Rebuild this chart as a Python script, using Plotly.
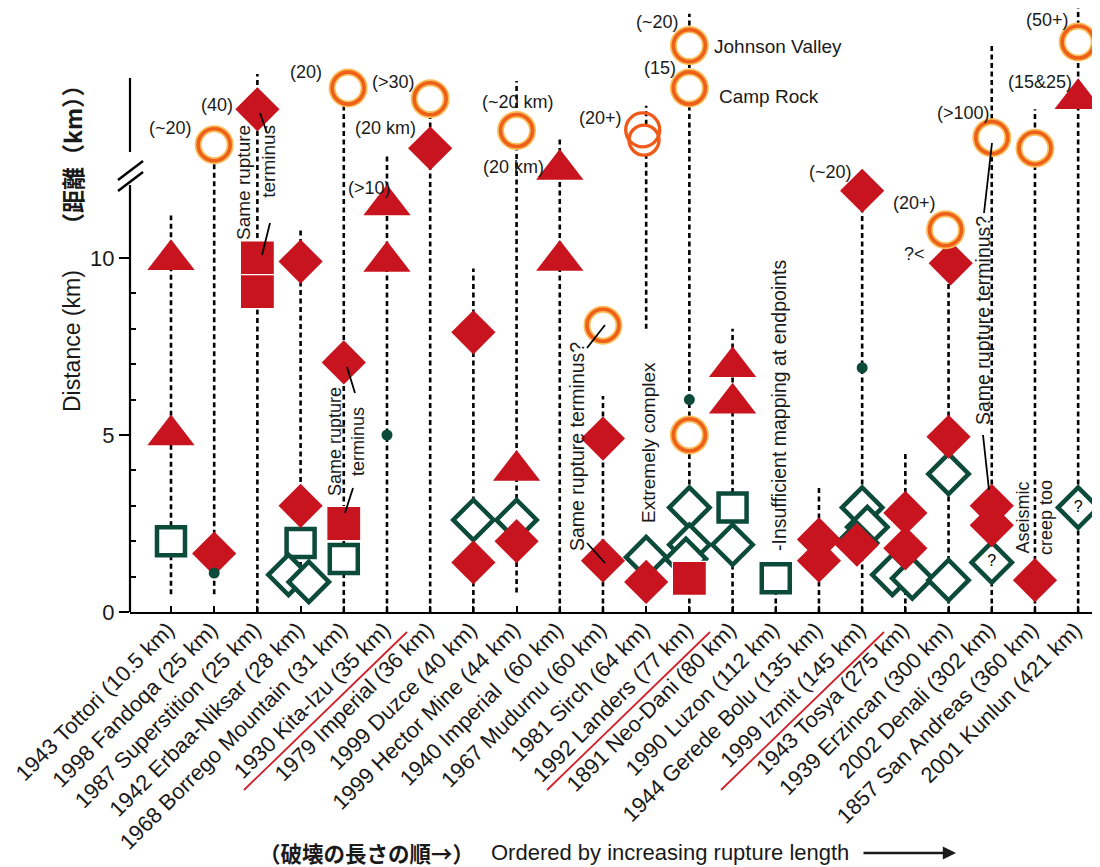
import plotly.graph_objects as go

# ---------------- data ----------------
categories = [
    "1943 Tottori (10.5 km)", "1998 Fandoqa (25 km)", "1987 Superstition (25 km)",
    "1942 Erbaa-Niksar (28 km)", "1968 Borrego Mountain (31 km)", "1930 Kita-Izu (35 km)",
    "1979 Imperial (36 km)", "1999 Duzce (40 km)", "1999 Hector Mine (44 km)",
    "1940 Imperial  (60 km)", "1967 Mudurnu (60 km)", "1981 Sirch (64 km)",
    "1992 Landers (77 km)", "1891 Neo-Dani (80 km)", "1990 Luzon (112 km)",
    "1944 Gerede Bolu (135 km)", "1999 Izmit (145 km)", "1943 Tosya (275 km)",
    "1939 Erzincan (300 km)", "2002 Denali (302 km)", "1857 San Andreas (360 km)",
    "2001 Kunlun (421 km)",
]

# dotted guide ranges per earthquake (km)
range_cat = list(range(22))
range_lo = [0.5, 0.5, 0, 0.55, 0, 0, 0, 0, 0.55, 0, 0, 8.0, 0, 0, 0, 0, 0, 0, 0, 0, 0, 0]
range_hi = [11.2, 13.2, 15.2, 10.8, 14.8, 12.9, 14.5, 9.7, 15.0, 13.4, 6.1, 14.3,
            16.9, 8.0, 0.5, 3.5, 11.9, 4.5, 10.8, 16.0, 14.2, 17.1]

red_diamond_cat = [1, 2, 3, 3, 4, 6, 7, 7, 8, 10, 10, 11, 15, 15, 16, 16, 17, 17, 18, 18, 19, 19, 20]
red_diamond_km = [1.65, 14.2, 9.9, 3.0, 7.05, 13.1, 7.9, 1.4, 2.0, 4.9, 1.45, 0.85, 2.05, 1.45,
                  11.9, 1.9, 2.8, 1.8, 9.85, 4.95, 3.0, 2.45, 0.9]
red_diamond_dx = [0, 0, 0, 0, 0, 0, 0, 0, 0, 0, 0, 0, 0, 0, 0, -0.12, 0, 0, 0.05, 0, 0, 0, 0]

red_tri_cat = [0, 0, 5, 5, 8, 9, 9, 13, 13, 21]
red_tri_km = [9.95, 5.0, 11.5, 9.9, 4.0, 12.5, 9.93, 6.93, 5.9, 14.5]

red_square_cat = [2, 2, 4, 12]
red_square_km = [10.0, 9.05, 2.5, 0.95]

green_square_cat = [0, 3, 4, 13, 14]
green_square_km = [2.0, 1.95, 1.5, 2.95, 0.95]

green_diamond_cat = [3, 3, 7, 8, 11, 12, 12, 12, 13, 16, 16, 16, 17, 17, 18, 18]
green_diamond_km = [1.05, 0.85, 2.6, 2.6, 1.55, 2.95, 1.9, 1.5, 1.9, 2.95, 2.4, 1.95, 1.05, 0.95, 3.9, 0.9]
green_diamond_dx = [-0.28, 0.19, 0, 0, 0, 0, 0, -0.08, 0, 0, 0.12, -0.12, -0.3, 0.16, 0, 0]

question_cat = [19, 21]
question_km = [1.4, 2.95]

circle_cat = [1, 4, 6, 8, 10, 12, 12, 12, 18, 19, 20, 21]
circle_km = [13.2, 14.8, 14.5, 13.6, 8.1, 16.0, 14.8, 5.0, 10.8, 13.4, 13.1, 16.1]
circle_dx = [0, 0.1, 0, 0, 0, 0, 0, 0, -0.07, 0, 0, 0]

sketch_circle_cat = [11, 11]
sketch_circle_km = [13.33, 13.62]
sketch_circle_dx = [-0.05, -0.08]

dot_cat = [1, 5, 12, 16]
dot_km = [1.1, 5.0, 6.0, 6.9]

# ---------------- geometry (page pixels; the page body has an 8px margin) ----------------
OFF = 8
W, H = 1092, 859
L, R, T, B = 130, 1095, 8, 612          # plot box on the page
ML, MR, MT, MB = L - OFF, W - (R - OFF), T - OFF, H - (B - OFF)
PW, PH = R - L, B - T
X_MIN, X_MAX = -0.949, 21.39
Y_MIN, Y_MAX = 0.0, PH / 35.4

def px2x(px):
    return X_MIN + (px - L) / PW * (X_MAX - X_MIN)

def py2y(py):
    return Y_MIN + (B - py) / PH * (Y_MAX - Y_MIN)

def ppx(px):
    return (px - L) / PW

def ppy(py):
    return (B - py) / PH

RED = "#C8141F"
GREEN = "#0C4A3A"
ORANGE = "#EE5F1A"
GLOW = "#F9BE5A"
FONT = "Liberation Sans, Arial, Helvetica, sans-serif"
CJK = "Noto Sans CJK JP"
TXT = "#1a1a1a"

fig = go.Figure()

# dotted vertical guides
xs, ys = [], []
for c, lo, hi in zip(range_cat, range_lo, range_hi):
    xs += [c, c, None]
    ys += [lo, hi, None]
fig.add_trace(go.Scatter(x=xs, y=ys, mode="lines", hoverinfo="skip",
                         line=dict(color="black", width=2.6, dash="5px,3.5px")))

def add(cats, vals, dx=None, **kw):
    if dx is None:
        dx = [0] * len(cats)
    fig.add_trace(go.Scatter(x=[c + d for c, d in zip(cats, dx)], y=vals, mode="markers",
                             hoverinfo="skip", cliponaxis=False, **kw))

# green open squares / diamonds (white filled)
add(green_square_cat, green_square_km,
    marker=dict(symbol="square", size=28, color="white", line=dict(color=GREEN, width=4.5)))
add(green_diamond_cat, green_diamond_km, green_diamond_dx,
    marker=dict(symbol="diamond", size=31, color="white", line=dict(color=GREEN, width=4.5)))
fig.add_trace(go.Scatter(x=question_cat, y=question_km, mode="markers+text", text=["?"] * len(question_cat),
                         textposition="middle center", hoverinfo="skip", cliponaxis=False,
                         textfont=dict(family=FONT, size=16, color="black"),
                         marker=dict(symbol="diamond", size=31, color="white", line=dict(color=GREEN, width=4.5))))

# red filled symbols
add(red_diamond_cat, red_diamond_km, red_diamond_dx,
    marker=dict(symbol="diamond", size=34, color=RED, line=dict(width=0)))
add(red_tri_cat, red_tri_km,
    marker=dict(symbol="triangle-up", size=41, color=RED, line=dict(width=0)))
add(red_square_cat, red_square_km,
    marker=dict(symbol="square", size=34, color=RED, line=dict(color="white", width=1.2)))

# small green dots
add(dot_cat, dot_km, marker=dict(symbol="circle", size=11, color=GREEN, line=dict(width=0)))

# orange open circles with glow
add(circle_cat, circle_km, circle_dx,
    marker=dict(symbol="circle", size=32, color="white", line=dict(color=GLOW, width=7)))
add(circle_cat, circle_km, circle_dx,
    marker=dict(symbol="circle", size=32, color="rgba(255,255,255,0)", line=dict(color=ORANGE, width=3.6)))
add(sketch_circle_cat[:1], sketch_circle_km[:1], sketch_circle_dx[:1],
    marker=dict(symbol="circle", size=30, color="white", line=dict(color="#EF5A1A", width=3.4)))
add(sketch_circle_cat[1:], sketch_circle_km[1:], sketch_circle_dx[1:],
    marker=dict(symbol="circle-open", size=34, color="#EF5A1A", line=dict(color="#EF5A1A", width=3.4)))

# ---------------- annotations ----------------
ann = []

def label(px, py, text, size=18, **kw):
    d = dict(x=px2x(px), y=py2y(py), xref="x", yref="y", text=text, showarrow=False,
             xanchor="center", yanchor="middle",
             font=dict(family=FONT, size=size, color=TXT))
    d.update(kw)
    ann.append(d)

def plabel(px, py, text, size, family=FONT, **kw):
    d = dict(x=ppx(px), y=ppy(py), xref="paper", yref="paper", text=text, showarrow=False,
             xanchor="center", yanchor="middle", font=dict(family=family, size=size, color=TXT))
    d.update(kw)
    ann.append(d)

label(170, 128, "(~20)")
label(217, 105, "(40)")
label(306, 72, "(20)")
label(393, 82, "(>30)")
label(385, 128, "(20 km)")
label(369, 188, "(>10)")
label(518, 102, "(~20 km)")
label(513, 167, "(20 km)")
label(600, 118, "(20+)")
label(657, 22, "(~20)")
label(712, 46, "Johnson Valley", size=19, xanchor="left")
label(660, 68, "(15)")
label(717, 96, "Camp Rock", size=19, xanchor="left")
label(830, 172, "(~20)")
label(914, 203, "(20+)")
label(914, 254, "?<", size=18)
label(963, 113, "(>100)")
label(1040, 82, "(15&25)")
label(1047, 20, "(50+)")

# rotated notes
label(256, 183, "Same rupture<br>terminus", size=19, textangle=-90, align="right")
label(346, 442, "Same rupture<br>terminus", size=18, textangle=-90, align="center")
label(577, 447, "Same rupture terminus?", size=19.5, textangle=-90)
label(648, 443, "Extremely complex", size=19, textangle=-90)
label(779, 406, "-Insufficient mapping at endpoints", size=19.5, textangle=-90)
label(983, 321, "Same rupture terminus?", size=19.5, textangle=-90)
label(1034, 518, "Aseismic<br>creep too", size=18, textangle=-90, align="center")

# axis titles
plabel(72, 341, "Distance (km)", 23, textangle=-90)
plabel(72, 155, "<b>（距離（km））</b>", 23, family=CJK, textangle=-90)

# bottom caption
plabel(366, 852, "<b>（破壊の長さの順→）</b>", 21.5, family=CJK)
plabel(670, 852, "Ordered by increasing rupture length", 22)
ann.append(dict(x=ppx(956), y=ppy(853), xref="paper", yref="paper", ax=-94, ay=0,
                axref="pixel", ayref="pixel", text="", showarrow=True, arrowhead=2,
                arrowsize=1.1, arrowwidth=2.4, arrowcolor=TXT))

# ---------------- shapes ----------------
shapes = []

def seg(x0, y0, x1, y1, color="black", width=2):
    shapes.append(dict(type="line", xref="paper", yref="paper", x0=ppx(x0), y0=ppy(y0),
                       x1=ppx(x1), y1=ppy(y1), line=dict(color=color, width=width)))

# broken y axis
seg(130, 612, 130, 185, width=2.2)
seg(130, 152, 130, 78, width=2.2)
seg(118, 191, 143, 172, width=2.5)
seg(118, 180, 143, 161, width=2.5)

# leader lines
seg(262, 255, 270, 223, width=1.8)
seg(260, 113, 267, 133, width=1.8)
seg(347, 367, 355, 393, width=1.8)
seg(345, 513, 353, 488, width=1.8)
seg(587, 348, 605, 325, width=1.8)
seg(587, 543, 605, 563, width=1.8)
seg(992, 143, 984, 213, width=1.8)
seg(983, 435, 989, 490, width=1.8)

# red underlines of tick labels
seg(244, 790, 407, 632, color="#D0202A", width=1.8)
seg(547, 790, 710, 632, color="#D0202A", width=1.8)
seg(721, 790, 884, 632, color="#D0202A", width=1.8)

fig.update_layout(
    width=W, height=H,
    margin=dict(l=ML, r=MR, t=MT, b=MB, autoexpand=False),
    paper_bgcolor="white", plot_bgcolor="white",
    showlegend=False,
    annotations=ann, shapes=shapes,
    font=dict(family=FONT, color=TXT),
    xaxis=dict(range=[X_MIN, X_MAX], tickmode="array", tickvals=list(range(len(categories))),
               ticktext=categories, tickangle=-45, ticks="inside", ticklen=6, tickwidth=1.5,
               tickcolor="black", showline=True, linecolor="black", linewidth=2.2,
               ticklabelstandoff=-6, ticklabelshift=-3, ticklabeloverflow="allow",
               showgrid=False, zeroline=False, tickfont=dict(family=FONT, size=22, color=TXT)),
    yaxis=dict(range=[Y_MIN, Y_MAX], tickmode="array", tickvals=[0, 5, 10], ticktext=["0", "5", "10"],
               ticks="outside", ticklen=10, tickwidth=2, tickcolor="black",
               minor=dict(tickmode="array", tickvals=[1, 2, 3, 4, 6, 7, 8, 9], ticks="inside",
                          ticklen=6, tickwidth=1.5, tickcolor="black", showgrid=False),
               showline=False, showgrid=False, zeroline=False,
               tickfont=dict(family=FONT, size=22, color=TXT)),
)

fig.write_html("out.html")
